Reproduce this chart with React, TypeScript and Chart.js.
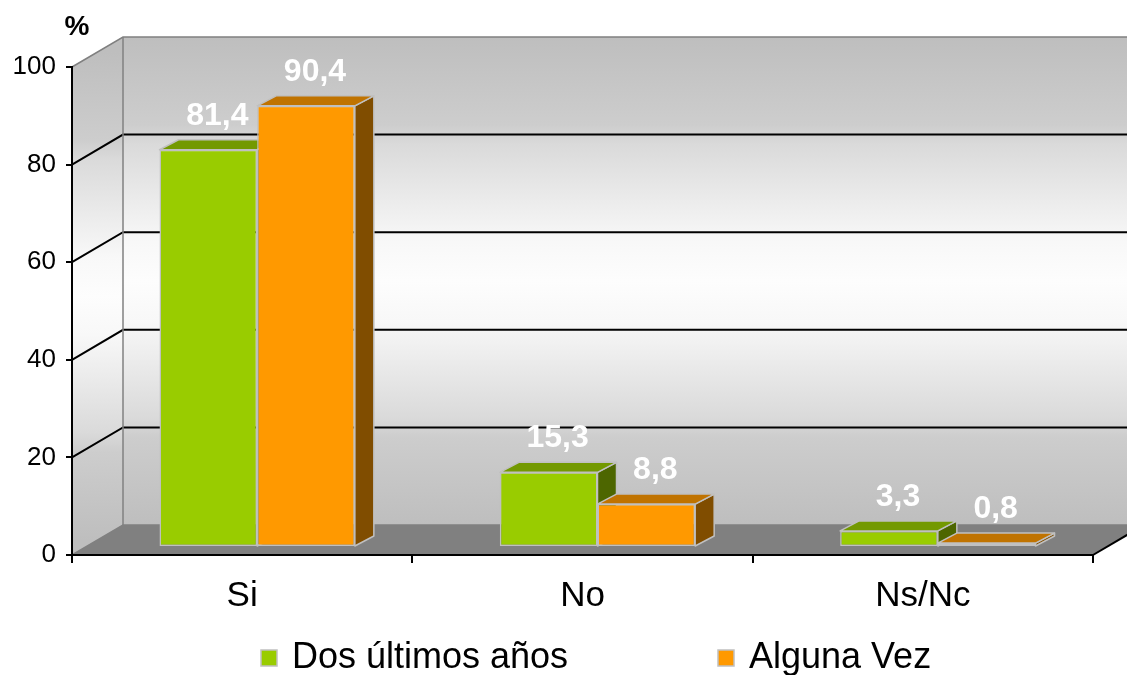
import React, { useEffect, useRef } from 'react';
import { Chart, registerables } from 'chart.js';
Chart.register(...registerables);

const categories = ['Si', 'No', 'Ns/Nc'];
const seriesNames = ['Dos últimos años', 'Alguna Vez'];
const dosUltimos = [81.4, 15.3, 3.3];
const algunaVez = [90.4, 8.8, 0.8];
const yTicks = [0, 20, 40, 60, 80, 100];
const unitLabel = '%';

const frontColors = ['#99CC00', '#FF9900'];
const topColors = ['#739900', '#C07300'];
const sideColors = ['#4D6600', '#804D00'];

const WALL_DX = 51;
const WALL_DY = 30;
const BAR_OX = 15;
const BAR_OY = 8;
const BAR_DX = 19;
const BAR_DY = 10;
const FONT = '"Liberation Sans", Arial, sans-serif';

function wallGradient(ctx: CanvasRenderingContext2D, y1: number, y2: number) {
  const g = ctx.createLinearGradient(0, y1, 0, y2);
  g.addColorStop(0, '#BEBEBE');
  g.addColorStop(0.18, '#CDCDCD');
  g.addColorStop(0.22, '#DADADA');
  g.addColorStop(0.42, '#F8F8F8');
  g.addColorStop(0.5, '#FDFDFD');
  g.addColorStop(0.58, '#F8F8F8');
  g.addColorStop(0.78, '#DADADA');
  g.addColorStop(0.82, '#CDCDCD');
  g.addColorStop(1, '#BEBEBE');
  return g;
}

const fmt = (v: number) => v.toFixed(1).replace('.', ',');

const threeD = {
  id: 'threeD',
  beforeDraw(chart: any) {
    const { ctx, chartArea } = chart;
    const { left, right, top, bottom } = chartArea;
    const ys = chart.scales.y;
    ctx.save();
    ctx.fillStyle = wallGradient(ctx, top - WALL_DY, bottom - WALL_DY);
    ctx.fillRect(left + WALL_DX, top - WALL_DY, right - left, bottom - top);
    ctx.fillStyle = wallGradient(ctx, top - WALL_DY / 2, bottom - WALL_DY / 2);
    ctx.beginPath();
    ctx.moveTo(left, top);
    ctx.lineTo(left + WALL_DX, top - WALL_DY);
    ctx.lineTo(left + WALL_DX, bottom - WALL_DY);
    ctx.lineTo(left, bottom);
    ctx.closePath();
    ctx.fill();
    ctx.fillStyle = '#808080';
    ctx.beginPath();
    ctx.moveTo(left, bottom);
    ctx.lineTo(right, bottom);
    ctx.lineTo(right + WALL_DX, bottom - WALL_DY);
    ctx.lineTo(left + WALL_DX, bottom - WALL_DY);
    ctx.closePath();
    ctx.fill();
    yTicks.forEach((v) => {
      const py = ys.getPixelForValue(v);
      const edge = v === yTicks[0] || v === yTicks[yTicks.length - 1];
      ctx.strokeStyle = edge ? '#808080' : '#000000';
      ctx.lineWidth = edge ? 1.5 : 2;
      ctx.beginPath();
      ctx.moveTo(left, py);
      ctx.lineTo(left + WALL_DX, py - WALL_DY);
      ctx.lineTo(right + WALL_DX, py - WALL_DY);
      ctx.stroke();
    });
    ctx.strokeStyle = '#808080';
    ctx.lineWidth = 1.5;
    ctx.beginPath();
    ctx.moveTo(left + WALL_DX, top - WALL_DY);
    ctx.lineTo(left + WALL_DX, bottom - WALL_DY);
    ctx.stroke();
    ctx.strokeStyle = '#000000';
    ctx.lineWidth = 2;
    ctx.beginPath();
    ctx.moveTo(right, bottom);
    ctx.lineTo(right + WALL_DX, bottom - WALL_DY);
    ctx.stroke();
    ctx.restore();
  },
  beforeDatasetsDraw(chart: any) {
    const { ctx } = chart;
    ctx.save();
    ctx.lineWidth = 1.5;
    ctx.strokeStyle = '#C0C0C0';
    ctx.lineJoin = 'round';
    chart.data.datasets.forEach((ds: any, di: number) => {
      const meta = chart.getDatasetMeta(di);
      meta.data.forEach((el: any) => {
        const p = el.getProps(['x', 'y', 'base', 'width'], true);
        const L = p.x - p.width / 2 + BAR_OX;
        const R = p.x + p.width / 2 + BAR_OX;
        const T = p.y - BAR_OY;
        const B = p.base - BAR_OY;
        ctx.fillStyle = sideColors[di];
        ctx.beginPath();
        ctx.moveTo(R, T);
        ctx.lineTo(R + BAR_DX, T - BAR_DY);
        ctx.lineTo(R + BAR_DX, B - BAR_DY);
        ctx.lineTo(R, B);
        ctx.closePath();
        ctx.fill();
        ctx.stroke();
        ctx.fillStyle = topColors[di];
        ctx.beginPath();
        ctx.moveTo(L, T);
        ctx.lineTo(L + BAR_DX, T - BAR_DY);
        ctx.lineTo(R + BAR_DX, T - BAR_DY);
        ctx.lineTo(R, T);
        ctx.closePath();
        ctx.fill();
        ctx.stroke();
      });
    });
    ctx.restore();
    ctx.save();
    ctx.translate(BAR_OX, -BAR_OY);
  },
  afterDatasetsDraw(chart: any) {
    const { ctx } = chart;
    ctx.restore();
    ctx.save();
    ctx.fillStyle = '#FFFFFF';
    ctx.font = `bold 32px ${FONT}`;
    ctx.textAlign = 'center';
    ctx.textBaseline = 'middle';
    chart.data.datasets.forEach((ds: any, di: number) => {
      const meta = chart.getDatasetMeta(di);
      meta.data.forEach((el: any, i: number) => {
        const p = el.getProps(['x', 'y'], true);
        ctx.fillText(fmt(ds.data[i]), p.x + BAR_OX + 9, p.y - BAR_OY - 34);
      });
    });
    ctx.restore();
  },
  afterDraw(chart: any) {
    const { ctx } = chart;
    ctx.save();
    ctx.fillStyle = '#000000';
    ctx.font = `bold 28px ${FONT}`;
    ctx.textAlign = 'center';
    ctx.textBaseline = 'middle';
    ctx.fillText(unitLabel, 77, 27);
    const items = [
      { x: 261, label: chart.data.datasets[0].label, color: frontColors[0] },
      { x: 718, label: chart.data.datasets[1].label, color: frontColors[1] },
    ];
    ctx.font = `36px ${FONT}`;
    ctx.textAlign = 'left';
    items.forEach((it) => {
      ctx.fillStyle = it.color;
      ctx.fillRect(it.x, 650, 16, 16);
      ctx.strokeStyle = '#C0C0C0';
      ctx.lineWidth = 1.5;
      ctx.strokeRect(it.x, 650, 16, 16);
      ctx.fillStyle = '#000000';
      ctx.fillText(it.label, it.x + 31, 658);
    });
    ctx.restore();
  },
};

export default function App() {
  const ref = useRef<HTMLCanvasElement | null>(null);
  useEffect(() => {
    if (!ref.current) return;
    const chart = new Chart(ref.current, {
      type: 'bar',
      data: {
        labels: categories,
        datasets: [
          {
            label: seriesNames[0],
            data: dosUltimos,
            backgroundColor: frontColors[0],
            borderColor: '#C0C0C0',
            borderWidth: 1.5,
            borderSkipped: false,
            barPercentage: 1,
            categoryPercentage: 0.574,
            clip: false as any,
          },
          {
            label: seriesNames[1],
            data: algunaVez,
            backgroundColor: frontColors[1],
            borderColor: '#C0C0C0',
            borderWidth: 1.5,
            borderSkipped: false,
            barPercentage: 1,
            categoryPercentage: 0.574,
            clip: false as any,
          },
        ],
      },
      options: {
        animation: false,
        responsive: false,
        maintainAspectRatio: false,
        devicePixelRatio: 1,
        layout: { padding: { top: 67, right: 34, bottom: 60, left: 0 } },
        plugins: {
          legend: { display: false },
          tooltip: { enabled: false },
        },
        scales: {
          x: {
            grid: { drawOnChartArea: false, tickLength: 8, color: '#000000', lineWidth: 2, offset: true },
            border: { color: '#000000', width: 2 },
            ticks: { font: { size: 35, family: FONT }, color: '#000000', padding: 12 },
            afterFit: (s: any) => { s.height = 60; },
          },
          y: {
            min: 0,
            max: 100,
            grid: { drawOnChartArea: false, tickLength: 6, color: '#000000', lineWidth: 2 },
            border: { color: '#000000', width: 2 },
            ticks: { font: { size: 26, family: FONT }, color: '#000000', padding: 10 },
            afterBuildTicks: (s: any) => { s.ticks = yTicks.map((v) => ({ value: v })); },
            afterFit: (s: any) => { s.width = 72; },
          },
        },
      },
      plugins: [threeD],
    });
    return () => chart.destroy();
  }, []);
  return (
    <div style={{ position: 'fixed', left: 0, top: 0, width: 1127, height: 675, background: '#FFFFFF' }}>
      <canvas ref={ref} width={1127} height={675} />
    </div>
  );
}
